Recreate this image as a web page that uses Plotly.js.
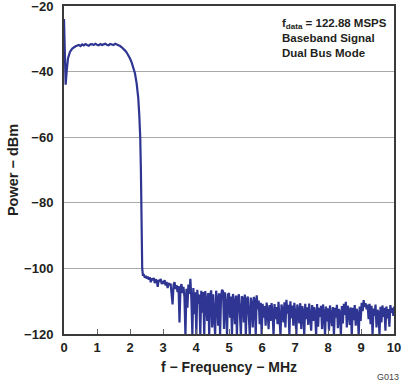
<!DOCTYPE html>
<html>
<head>
<meta charset="utf-8">
<script src="https://cdn.plot.ly/plotly-3.0.1.min.js"></script>
<style>html,body{margin:0;padding:0;background:#fff;}#chart{width:406px;height:384px;}</style>
</head>
<body>
<div id="chart"></div>
<script>
// Passband portion (MHz, dBm)
const bandFreq = [0, 0.02, 0.05, 0.08, 0.12, 0.18, 0.25, 0.35, 0.45,
  0.5, 0.55, 0.6, 0.65, 0.7, 0.75, 0.8, 0.85, 0.9, 0.95, 1.0, 1.05, 1.1, 1.15, 1.2,
  1.25, 1.3, 1.35, 1.4, 1.45, 1.5, 1.55, 1.6, 1.65, 1.7, 1.75, 1.8, 1.85, 1.9, 1.95,
  2.0, 2.05, 2.1, 2.15, 2.2, 2.25, 2.28, 2.31, 2.33, 2.34, 2.36, 2.37, 2.39];
const bandPower = [-24, -34, -44, -40, -36, -34, -33, -32.3, -31.9,
  -32.2, -31.7, -32.0, -31.6, -31.9, -32.1, -31.7, -31.6, -31.9, -31.5, -31.8, -32.0, -31.6, -31.9, -31.7,
  -31.5, -31.8, -32.0, -31.6, -31.7, -31.9, -31.5, -31.7, -31.8, -32.2, -32.6, -33.0, -33.6, -34.2, -35.0,
  -36.0, -37.2, -38.8, -40.5, -43.5, -48.0, -53.0, -60.0, -70.0, -80.0, -92.0, -100.0, -102.0];

// Noise floor portion: FFT bins from noiseStart in steps of noiseStep (MHz)
const noiseStart = 2.42;
const noiseStep = 0.03;
const noisePower = [
  -102.0, -102.8, -102.3, -103.1, -102.5, -103.4, -102.7, -104.2, -103.0, -103.6,
  -102.9, -104.5, -103.3, -103.8, -105.6, -103.5, -104.0, -103.2, -104.8, -103.9,
  -104.3, -103.6, -105.2, -104.1, -106.0, -104.4, -105.1, -104.6, -107.5, -111.0,
  -105.0, -104.2, -106.3, -105.1, -107.2, -105.4, -116.5, -106.0, -104.8, -107.5,
  -105.6, -108.8, -120.5, -106.2, -112.0, -104.9, -107.8, -103.2, -109.5, -120.5,
  -106.0, -114.0, -107.3, -120.5, -106.5, -110.8, -108.0, -120.5, -106.8, -113.5,
  -107.2, -120.5, -106.9, -109.8, -116.0, -107.5, -120.5, -108.1, -106.7, -118.0,
  -107.9, -112.5, -120.5, -106.8, -109.5, -117.5, -107.6, -120.5, -108.4, -106.5,
  -107.0, -118.5, -107.3, -111.0, -120.5, -108.0, -107.5, -115.0, -108.6, -120.5,
  -107.8, -110.5, -117.0, -108.3, -120.5, -109.0, -107.9, -113.8, -120.5, -108.5,
  -109.2, -116.5, -108.0, -120.5, -109.5, -108.6, -114.5, -120.5, -108.9, -110.8,
  -118.0, -108.7, -109.6, -120.5, -108.2, -112.5, -109.8, -117.0, -110.5, -120.5,
  -110.8, -115.0, -111.5, -117.5, -110.4, -113.0, -118.5, -111.2, -116.0, -110.6,
  -113.5, -120.5, -110.9, -115.5, -111.8, -117.0, -110.2, -114.0, -120.5, -111.0,
  -112.5, -116.5, -110.3, -118.0, -109.6, -113.8, -111.1, -120.5, -110.0, -115.2,
  -111.3, -117.5, -110.5, -114.0, -120.5, -111.0, -112.8, -116.8, -110.6, -118.5,
  -111.5, -113.2, -120.5, -110.8, -115.5, -111.9, -117.2, -110.7, -114.0, -119.0,
  -111.2, -116.0, -111.8, -113.5, -120.5, -110.9, -117.8, -112.0, -114.8, -111.4,
  -118.5, -111.0, -113.8, -120.5, -111.6, -116.2, -112.2, -119.0, -111.3, -114.5,
  -117.6, -111.8, -120.5, -112.0, -115.0, -111.1, -118.2, -112.4, -113.5, -120.5,
  -111.5, -116.8, -110.8, -114.2, -110.2, -118.0, -111.4, -113.0, -117.2, -111.9,
  -120.5, -112.0, -115.8, -111.2, -117.5, -112.3, -114.0, -120.5, -111.6, -116.0,
  -110.5, -113.0, -109.7, -111.8, -110.6, -112.5, -111.0, -115.5, -110.8, -117.0,
  -111.4, -120.5, -112.2, -114.5, -111.0, -118.0, -112.6, -113.6, -120.5, -111.7,
  -116.5, -111.3, -114.8, -112.0, -119.0, -111.6, -115.2, -112.4, -117.8, -111.2,
  -113.5, -112.0, -114.5, -111.6
];
const xTicks = [0,1,2,3,4,5,6,7,8,9,10];
const yTicks = [-120,-100,-80,-60,-40,-20];

const noiseFreq = noisePower.map((_, i) => +(noiseStart + i * noiseStep).toFixed(3));
const freq = bandFreq.concat(noiseFreq);
const power = bandPower.concat(noisePower);

const fontFam = 'Liberation Sans, Arial, Helvetica, sans-serif';
const txt = '#231f20';

Plotly.newPlot('chart', [{
  x: freq, y: power, type: 'scatter', mode: 'lines',
  line: {color: '#2e3592', width: 2.2},
  hoverinfo: 'skip'
}], {
  width: 406, height: 384,
  margin: {l: 64, r: 12, t: 6, b: 50},
  paper_bgcolor: '#fff', plot_bgcolor: '#fff',
  showlegend: false,
  font: {family: fontFam, color: txt},
  xaxis: {
    range: [0, 10], tickvals: xTicks, ticktext: xTicks.map(String),
    showgrid: false, zeroline: false,
    showline: true, mirror: true, linecolor: '#3a3a3a', linewidth: 2,
    ticks: 'inside', ticklen: 5, tickcolor: '#666', tickwidth: 1,
    ticklabeloverflow: 'allow',
    tickfont: {family: fontFam, size: 13, weight: 'bold', color: txt},
    title: {text: 'f − Frequency − MHz', standoff: 9, font: {family: fontFam, size: 14, weight: 'bold', color: txt}}
  },
  yaxis: {
    range: [-120, -20], tickvals: yTicks,
    showgrid: true, gridcolor: '#aaaaaa', gridwidth: 1, zeroline: false,
    showline: true, mirror: true, linecolor: '#3a3a3a', linewidth: 2,
    ticks: '', ticklabelstandoff: 6, ticklabeloverflow: 'allow',
    tickfont: {family: fontFam, size: 13, weight: 'bold', color: txt},
    title: {text: 'Power − dBm', standoff: 2, font: {family: fontFam, size: 14.5, weight: 'bold', color: txt}}
  },
  annotations: [
    {xref: 'paper', yref: 'paper', x: 0.655, y: 0.972, xanchor: 'left', yanchor: 'top',
     align: 'left', showarrow: false,
     text: 'f<sub>data</sub> = 122.88 MSPS<br>Baseband Signal<br>Dual Bus Mode',
     font: {family: fontFam, size: 11.5, weight: 'bold', color: txt}},
    {xref: 'paper', yref: 'paper', x: 1.02, y: -0.132, xanchor: 'right', yanchor: 'middle',
     showarrow: false, text: 'G013', font: {family: fontFam, size: 9, color: '#444'}}
  ]
}, {displayModeBar: false, staticPlot: true});
</script>
</body>
</html>
